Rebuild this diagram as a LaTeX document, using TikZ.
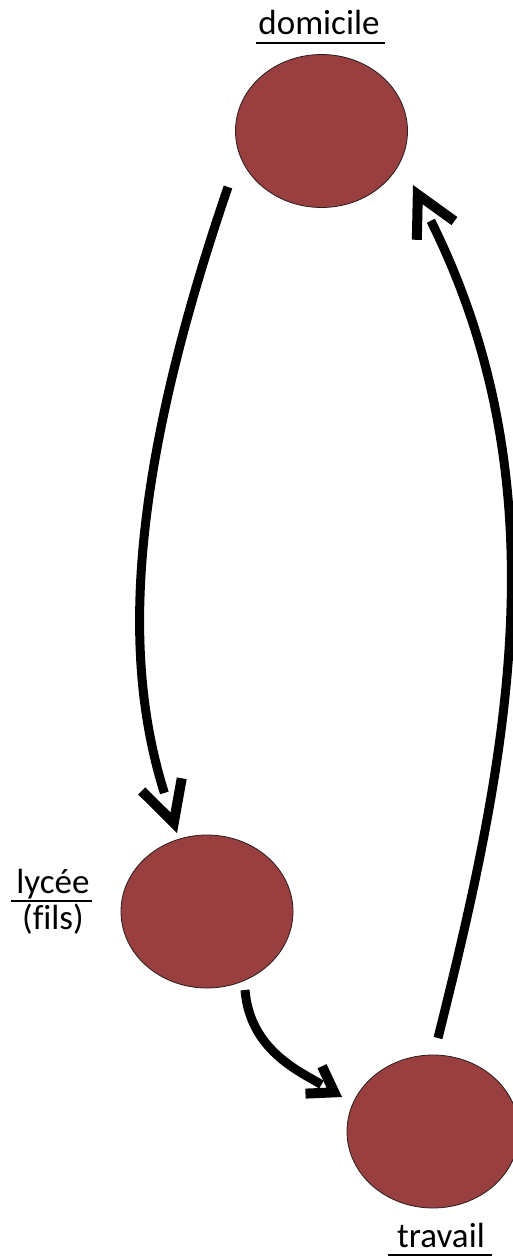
\documentclass[tikz,border=0pt]{standalone}
\usepackage{fontspec}
\setmainfont[Ligatures=NoCommon]{Carlito}
\usetikzlibrary{arrows.meta,shapes.geometric}
\definecolor{blobfill}{RGB}{153,63,63}
\definecolor{blobline}{RGB}{40,30,30}
\tikzset{
  blob/.style={ellipse, draw=blobline, line width=0.8pt, fill=blobfill,
    minimum width=172pt, minimum height=153pt, inner sep=0pt},
  lbl/.style={font=\fontsize{35}{42}\selectfont, inner sep=0pt, anchor=base},
  uline/.style={line width=1.8pt},
  shaft/.style={line width=9pt},
  headonly/.style={line width=10pt, dash pattern=on 0pt off 5000pt, line cap=butt},
  bighead/.style={-{Straight Barb[length=40pt,width=42pt,line cap=butt,line join=miter]}},
  smallhead/.style={-{Straight Barb[length=24pt,width=32pt,line cap=butt,line join=miter]}}
}
\begin{document}
\begin{tikzpicture}[x=1pt,y=-1pt]
\useasboundingbox (0,0) rectangle (513,1260);
\node[blob] (dom) at (321.5,131) {};
\node[blob] (lyc) at (207,911.5) {};
\node[blob] (tra) at (433,1131.5) {};
\node[lbl] (domt) at (319,35) {domicile};
\node[lbl] (lyct) at (53,893) {lycée};
\node[lbl] (filst) at (53,929) {(fils)};
\node[lbl] (trat) at (441,1247) {travail};
\draw[uline] ([xshift=-2pt,yshift=-8pt]domt.base west) -- ([xshift=5pt,yshift=-8pt]domt.base east);
\draw[uline] ([xshift=-5pt,yshift=-8pt]lyct.base west) -- ([xshift=2pt,yshift=-8pt]lyct.base east);
\draw[uline] ([xshift=-9pt,yshift=-8pt]trat.base west) -- ([xshift=7pt,yshift=-8pt]trat.base east);
\coordinate (a1s) at (228,187);
\coordinate (a1e) at (177,833);
\coordinate (a2s) at (245,990);
\coordinate (a2e) at (342,1097);
\coordinate (a3s) at (438,1038);
\coordinate (a3e) at (413,185);
% shafts
\draw[shaft, shorten >=42pt] (a1s) .. controls (125,488) and (124,665) .. (a1e);
\draw[shaft, shorten >=24pt] (a2s) .. controls (250,1050) and (299,1071) .. (a2e);
\draw[shaft, shorten >=40pt] (a3s) .. controls (506,766) and (565,490) .. (a3e);
% heads
\draw[headonly, bighead] (a1s) .. controls (125,488) and (124,665) .. (a1e);
\draw[headonly, smallhead] (a2s) .. controls (250,1050) and (299,1071) .. (a2e);
\draw[headonly, bighead] (a3s) .. controls (506,766) and (565,490) .. (a3e);
\end{tikzpicture}
\end{document}
